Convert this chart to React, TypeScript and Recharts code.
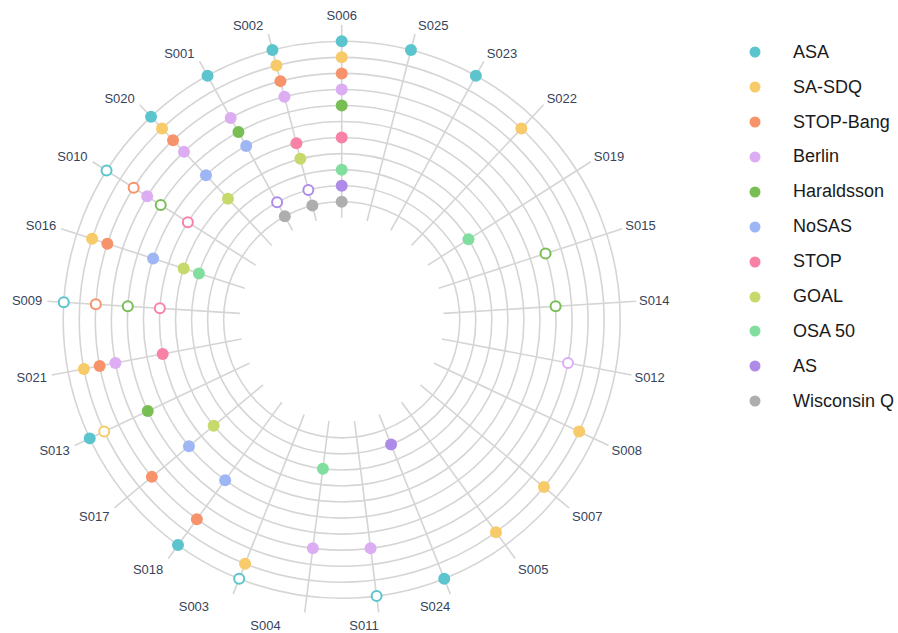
import React from 'react';
import { RadarChart, Radar, PolarGrid, PolarAngleAxis, PolarRadiusAxis, Legend } from 'recharts';

// Studies, clockwise from the top
const studies = ['S006','S025','S023','S022','S019','S015','S014','S012','S008','S007','S005','S024','S011','S004','S003','S018','S017','S013','S021','S009','S016','S010','S020','S001','S002'];

const questionnaires = ['ASA','SA-SDQ','STOP-Bang','Berlin','Haraldsson','NoSAS','STOP','GOAL','OSA 50','AS','Wisconsin Q'];

// ring of each questionnaire (outermost = 11)
const ringLevels = [11,10,9,8,7,6,5,4,3,2,1];

// 2 = filled marker, 1 = open marker, 0 = none (order follows `studies`)
const asaMarks =        [2,2,2,0,0,0,0,0,0,0,0,2,1,0,1,2,0,2,0,1,0,1,2,2,2];
const saSdqMarks =      [2,0,0,2,0,0,0,0,2,2,2,0,0,0,2,0,0,1,2,0,2,0,2,0,2];
const stopBangMarks =   [2,0,0,0,0,0,0,0,0,0,0,0,0,0,0,2,2,0,2,1,2,1,2,0,2];
const berlinMarks =     [2,0,0,0,0,0,0,1,0,0,0,0,2,2,0,0,0,0,2,0,0,2,2,2,2];
const haraldssonMarks = [2,0,0,0,0,1,1,0,0,0,0,0,0,0,0,0,0,2,0,1,0,1,0,2,0];
const nosasMarks =      [0,0,0,0,0,0,0,0,0,0,0,0,0,0,0,2,2,0,0,0,2,0,2,2,0];
const stopMarks =       [2,0,0,0,0,0,0,0,0,0,0,0,0,0,0,0,0,0,2,1,0,1,0,0,2];
const goalMarks =       [0,0,0,0,0,0,0,0,0,0,0,0,0,0,0,0,2,0,0,0,2,0,2,0,2];
const osa50Marks =      [2,0,0,0,2,0,0,0,0,0,0,0,0,2,0,0,0,0,0,0,2,0,0,0,0];
const asMarks =         [2,0,0,0,0,0,0,0,0,0,0,2,0,0,0,0,0,0,0,0,0,0,0,1,1];
const wisconsinMarks =  [2,0,0,0,0,0,0,0,0,0,0,0,0,0,0,0,0,0,0,0,0,0,0,2,2];

const marksList = [asaMarks, saSdqMarks, stopBangMarks, berlinMarks, haraldssonMarks, nosasMarks, stopMarks, goalMarks, osa50Marks, asMarks, wisconsinMarks];

const colors = ['#5BC4CC','#F7CB69','#F7936B','#DDADF3','#78BE55','#9EB6F3','#F881A6','#C6DA6C','#82DE9F','#AE8BE8','#AEAEAE'];

const chartData = studies.map((s, i) => {
  const row: any = { study: s };
  questionnaires.forEach((q, k) => {
    row['k' + k] = marksList[k][i] > 0 ? ringLevels[k] : null;
  });
  return row;
});

const FONT = '"Liberation Sans", Arial, Helvetica, sans-serif';
const CX = 341.7;
const CY = 319.8;
const INNER_R = 102;
const OUTER_R = 295;

const AngleTick = (props: any) => {
  const { payload } = props;
  const a = (payload.coordinate * Math.PI) / 180;
  const c = Math.cos(a);
  const s = Math.sin(a);
  const ex = CX + OUTER_R * c;
  const ey = CY - OUTER_R * s;
  let anchor: 'start' | 'middle' | 'end' = 'middle';
  let dx = 0;
  if (s < -0.5 && c < 0.45) {
    anchor = 'end';
    dx = c > 0 ? 0 : c > -0.45 ? -24 : -5;
  } else if (c > 0.1) {
    anchor = 'start';
    dx = 3;
  } else if (c < -0.1) {
    anchor = 'end';
    dx = -5;
  }
  const dy = -s * (s > 0 ? 9 : 13);
  return (
    <text x={ex + dx} y={ey + dy} dy="0.35em" textAnchor={anchor} fontSize={13} fontFamily={FONT} fill="#36435a">
      {payload.value}
    </text>
  );
};

const makeDot = (k: number) => (p: any) => {
  const st = marksList[k][p.index];
  if (!st || !Number.isFinite(p.cx) || !Number.isFinite(p.cy)) return <g key={`d-${k}-${p.index}`} />;
  if (st === 2) {
    return <circle key={`d-${k}-${p.index}`} cx={p.cx} cy={p.cy} r={6} fill={colors[k]} stroke="none" />;
  }
  return <circle key={`d-${k}-${p.index}`} cx={p.cx} cy={p.cy} r={5} fill="#ffffff" stroke={colors[k]} strokeWidth={2} />;
};

const LegendList = () => (
  <div style={{ fontFamily: FONT }}>
    {questionnaires.map((q, k) => (
      <div key={q} style={{ height: 34.9, display: 'flex', alignItems: 'center' }}>
        <svg width={12} height={12} style={{ marginLeft: 11, flex: 'none' }}>
          <circle cx={6} cy={6} r={5.5} fill={colors[k]} />
        </svg>
        <span style={{ marginLeft: 32, fontSize: 18, color: '#1a1a1a', whiteSpace: 'nowrap' }}>{q}</span>
      </div>
    ))}
  </div>
);

export default function App() {
  return (
    <div style={{ position: 'absolute', left: 0, top: 0, background: '#fff' }}>
      <RadarChart
        width={898}
        height={633}
        data={chartData}
        cx={CX}
        cy={CY}
        innerRadius={INNER_R}
        outerRadius={OUTER_R}
        startAngle={90}
        endAngle={-270}
        margin={{ top: 0, right: 0, bottom: 0, left: 0 }}
      >
        <PolarGrid gridType="circle" stroke="#d5d5d5" strokeWidth={1.6} />
        <PolarAngleAxis dataKey="study" tick={<AngleTick />} tickLine={false} axisLine={false} />
        <PolarRadiusAxis type="number" domain={[0.217, 12.028]} ticks={ringLevels} tick={false} axisLine={false} allowDataOverflow />
        {questionnaires.map((q, k) => (
          <Radar
            key={q}
            name={q}
            dataKey={'k' + k}
            stroke="none"
            fill="none"
            fillOpacity={0}
            dot={makeDot(k)}
            activeDot={false}
            isAnimationActive={false}
          />
        ))}
        <Legend
          layout="vertical"
          verticalAlign="top"
          align="right"
          wrapperStyle={{ left: 738, top: 34.85, width: 160, right: 'auto' }}
          content={() => <LegendList />}
        />
      </RadarChart>
    </div>
  );
}
